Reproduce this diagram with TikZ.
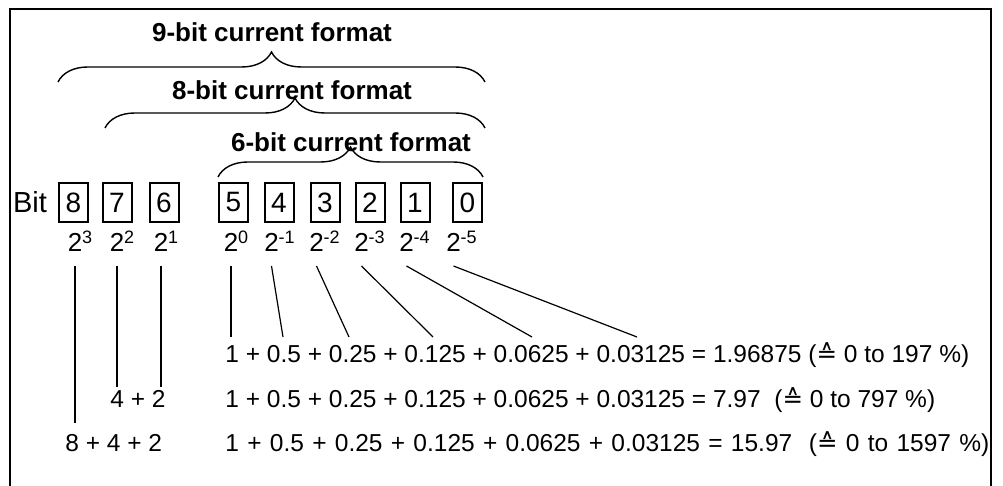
\documentclass[tikz,border=0pt]{standalone}
\usepackage{fontspec}
\setmainfont{Liberation Sans}
\newfontfamily\symfont{DejaVu Sans}
\usetikzlibrary{decorations.pathreplacing}

\newcommand{\pw}[1]{2\rlap{\raisebox{4pt}{\fontsize{9}{9}\selectfont #1}}}
\newcommand{\corr}{{\symfont ≙}}

\begin{document}
\begin{tikzpicture}[x=0.5pt, y=-0.5pt,
        bit box/.style={draw, line width=1pt, minimum width=14.5pt, minimum height=19.5pt, inner sep=0pt, font=\fontsize{14}{14}\selectfont},
        power/.style={inner sep=0pt, outer ysep=7pt, anchor=base, font=\fontsize{13}{13}\selectfont},
        sum text/.style={inner sep=0pt, anchor=base west, font=\fontsize{12.25}{12.25}\selectfont},
        title/.style={font=\fontsize{13}{13}\selectfont\bfseries},
        brace style/.style={decorate, decoration={brace, amplitude=15pt}, line width=0.7pt},
        link/.style={line width=1pt},
        thin link/.style={line width=0.6pt}
    ]
        \useasboundingbox (0,0) rectangle (1003,486);
        \draw[line width=1.4pt] (10,486) -- (10,9) -- (991,9) -- (991,486);

        % formats
        \node[title] (f9) at (272,32) {9-bit current format};
        \node[title] (f8) at (292,90) {8-bit current format};
        \node[title] (f6) at (351,142) {6-bit current format};
        \draw[brace style] (58,82) -- (485,82);
        \draw[brace style] (105,128) -- (485,128);
        \draw[brace style] (218,177) -- (483,177);

        % bit register
        \node[font=\fontsize{14.5}{14.5}\selectfont] (bit) at (30,202) {Bit};
        \foreach \n/\x in {8/73.5, 7/117, 6/164, 5/233.5, 4/279, 3/325, 2/370, 1/415, 0/467.5}
            \node[bit box] (b\n) at (\x,202.5) {\n};

        % weights
        \node[power] (p8) at (75,252) {\pw{3}};
        \node[power] (p7) at (117,252) {\pw{2}};
        \node[power] (p6) at (161,252) {\pw{1}};
        \node[power] (p5) at (231,252) {\pw{0}};
        \node[power] (p4) at (271.5,252) {\pw{-1}};
        \node[power] (p3) at (316.5,252) {\pw{-2}};
        \node[power] (p2) at (361.5,252) {\pw{-3}};
        \node[power] (p1) at (406.5,252) {\pw{-4}};
        \node[power] (p0) at (453.5,252) {\pw{-5}};

        % sums
        \node[sum text] (eq1) at (225,363) {1 + 0.5 + 0.25 + 0.125 + 0.0625 + 0.03125 = 1.96875 (\corr\ 0 to 197 \%)};
        \node[sum text] (eq2) at (225,408) {1 + 0.5 + 0.25 + 0.125 + 0.0625 + 0.03125 = 7.97 \ (\corr\ 0 to 797 \%)};
        \node[sum text] (eq3) at (225,452) {\spaceskip=4.15pt 1 + 0.5 + 0.25 + 0.125 + 0.0625 + 0.03125 = 15.97 \ (\corr\ 0 to 1597 \%)};
        \node[sum text] (s2) at (110,408) {4 + 2};
        \node[sum text] (s3) at (65,452) {8 + 4 + 2};

        \coordinate (e8) at (75,423);
        \coordinate (e7) at (117,387);
        \coordinate (e6) at (161,387);
        \coordinate (e5) at (231,337);
        \coordinate (e4) at (283,337);
        \coordinate (e3) at (349,337);
        \coordinate (e2) at (433,337);
        \coordinate (e1) at (532,337);
        \coordinate (e0) at (637,337);

        \draw[link] (p8.south) -- (e8);
        \draw[link] (p7.south) -- (e7);
        \draw[link] (p6.south) -- (e6);
        \draw[link] (p5.south) -- (e5);
        \draw[thin link] (p4.south) -- (e4);
        \draw[thin link] (p3.south) -- (e3);
        \draw[thin link] (p2.south) -- (e2);
        \draw[thin link] (p1.south) -- (e1);
        \draw[thin link] (p0.south) -- (e0);
    \end{tikzpicture}
\end{document}
